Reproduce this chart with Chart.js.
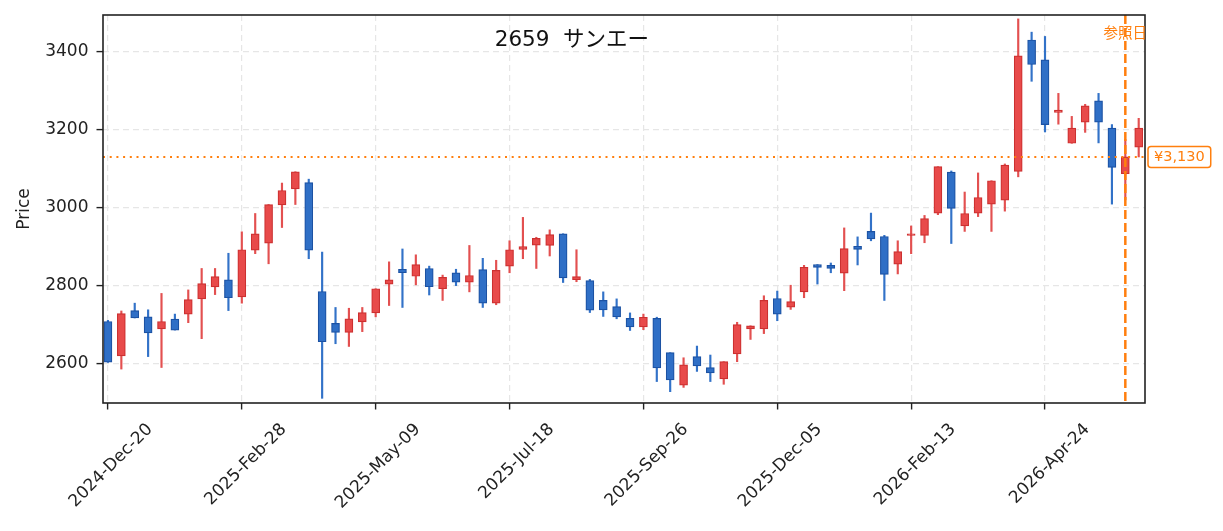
<!DOCTYPE html>
<html>
<head>
<meta charset="utf-8">
<script src="https://cdn.jsdelivr.net/npm/chart.js@4.4.1/dist/chart.umd.min.js"></script>
<style>
html,body{margin:0;padding:0;background:#ffffff;}
#wrap{width:1223px;height:531px;position:relative;}
</style>
</head>
<body>
<div id="wrap"><canvas id="c" width="1223" height="531"></canvas></div>
<script>
// ---- data ----
const chartTitle = '2659  サンエー';
const yTitle = 'Price';
const tickPositions = [0, 10, 20, 30, 40, 50, 60, 70];
const tickLabels = ['2024-Dec-20', '2025-Feb-28', '2025-May-09', '2025-Jul-18', '2025-Sep-26', '2025-Dec-05', '2026-Feb-13', '2026-Apr-24'];
const yTicks = [2600, 2800, 3000, 3200, 3400];
const opens  = [2708,2620,2736,2720,2689,2714,2727,2766,2797,2815,2771,2891,2909,3007,3048,3064,2785,2703,2680,2707,2730,2804,2842,2824,2844,2792,2833,2809,2841,2755,2850,2893,2904,2903,2933,2815,2813,2762,2746,2716,2694,2716,2628,2545,2618,2590,2561,2625,2689,2689,2767,2745,2784,2854,2852,2832,2901,2939,2926,2855,2929,2929,2986,3091,2953,2986,3009,3019,3093,3430,3379,3244,3165,3219,3274,3204,3087,3155];
const highs  = [2711,2735,2755,2738,2780,2727,2789,2844,2844,2883,2938,2985,3008,3063,3092,3073,2886,2744,2742,2744,2792,2861,2894,2879,2850,2827,2842,2903,2870,2865,2915,2975,2924,2943,2933,2892,2816,2784,2766,2730,2727,2719,2628,2615,2645,2622,2605,2706,2697,2774,2786,2801,2852,2854,2858,2948,2925,2986,2929,2915,2953,2980,3105,3094,3040,3089,3069,3112,3484,3450,3439,3293,3234,3265,3293,3213,3175,3229];
const lows   = [2603,2586,2717,2618,2590,2686,2705,2664,2777,2736,2755,2882,2856,2949,3008,2869,2511,2651,2644,2682,2720,2749,2744,2802,2776,2762,2800,2784,2744,2751,2833,2869,2844,2876,2808,2810,2731,2721,2715,2685,2687,2554,2528,2539,2580,2554,2547,2605,2662,2677,2710,2739,2769,2804,2833,2787,2853,2915,2762,2830,2882,2910,2982,2908,2939,2977,2939,2991,3079,3324,3194,3214,3165,3193,3166,3009,3020,3130];
const closes = [2604,2728,2717,2679,2708,2686,2764,2805,2823,2769,2892,2933,3008,3044,3092,2891,2656,2680,2715,2731,2792,2815,2833,2854,2797,2821,2809,2826,2755,2839,2892,2900,2921,2931,2820,2823,2737,2738,2720,2694,2719,2589,2558,2597,2594,2576,2605,2700,2697,2762,2727,2759,2847,2847,2844,2895,2893,2920,2829,2887,2933,2972,3105,2998,2985,3026,3069,3109,3389,3367,3213,3250,3204,3261,3219,3103,3130,3204];
const lastPrice = 3130;
const lastPriceLabel = '¥3,130';
const refIndex = 76;
const refLabel = '参照日';

// ---- styles ----
const FONT = '"DejaVu Sans", "Noto Sans CJK JP", sans-serif';
const UP_FILL = '#e84a4a', UP_EDGE = '#cc3030', UP_WICK = '#e35050';
const DN_FILL = '#2f6fc6', DN_EDGE = '#1c52a3', DN_WICK = '#3272c8';
const ORANGE = '#ff7f0e';
const X_MIN = -0.37, X_MAX = 77.47, Y_MIN = 2499, Y_MAX = 3494;

const isUp = opens.map((o, i) => closes[i] >= o);
const wickData = opens.map((o, i) => ({x: i, y: [lows[i], highs[i]]}));
const bodyData = opens.map((o, i) => ({x: i, y: [Math.min(o, closes[i]), Math.max(o, closes[i])]}));

const overlay = {
  id: 'overlay',
  afterDatasetsDraw(chart) {
    const {ctx, chartArea: a, scales: {x, y}} = chart;
    ctx.save();
    // price line
    const py = y.getPixelForValue(lastPrice);
    ctx.strokeStyle = ORANGE; ctx.lineWidth = 2; ctx.setLineDash([2, 4.7]);
    ctx.beginPath(); ctx.moveTo(a.left, py); ctx.lineTo(a.right, py); ctx.stroke();
    // reference date line
    const rx = x.getPixelForValue(refIndex);
    ctx.lineWidth = 2.5; ctx.setLineDash([9, 4]);
    ctx.beginPath(); ctx.moveTo(rx, a.top); ctx.lineTo(rx, a.bottom); ctx.stroke();
    ctx.setLineDash([]);
    // frame
    ctx.strokeStyle = '#222'; ctx.lineWidth = 1.6;
    ctx.strokeRect(a.left, a.top, a.right - a.left, a.bottom - a.top);
    // title
    ctx.fillStyle = '#111'; ctx.font = '21.5px ' + FONT;
    ctx.textAlign = 'center'; ctx.textBaseline = 'middle';
    ctx.fillText(chartTitle, a.left + 0.45 * (a.right - a.left), 40);
    // ref label
    ctx.fillStyle = ORANGE; ctx.font = '14.5px ' + FONT;
    ctx.fillText(refLabel, rx, 34);
    // price label box
    ctx.font = '14.5px ' + FONT;
    const tw = ctx.measureText(lastPriceLabel).width;
    const bx = a.right + 3, bw = tw + 12, bh = 21;
    ctx.fillStyle = '#fff'; ctx.strokeStyle = ORANGE; ctx.lineWidth = 1.5;
    ctx.beginPath();
    if (ctx.roundRect) ctx.roundRect(bx, py - bh / 2, bw, bh, 3); else ctx.rect(bx, py - bh / 2, bw, bh);
    ctx.fill(); ctx.stroke();
    ctx.fillStyle = ORANGE; ctx.textAlign = 'left';
    ctx.fillText(lastPriceLabel, bx + 6, py + 0.5);
    ctx.restore();
  }
};

new Chart(document.getElementById('c'), {
  type: 'bar',
  data: {
    datasets: [
      {
        data: bodyData,
        backgroundColor: isUp.map(u => u ? UP_FILL : DN_FILL),
        borderColor: isUp.map(u => u ? UP_EDGE : DN_EDGE),
        borderWidth: 1.2, borderSkipped: false, barThickness: 8, grouped: false, order: 1
      },
      {
        data: wickData,
        backgroundColor: isUp.map(u => u ? UP_WICK : DN_WICK),
        borderWidth: 0, barThickness: 1.5, grouped: false, order: 2
      }
    ]
  },
  options: {
    responsive: false,
    animation: false,
    layout: {padding: {left: 0, right: 78, top: 15, bottom: 0}},
    plugins: {legend: {display: false}, tooltip: {enabled: false}, title: {display: false}},
    scales: {
      x: {
        type: 'linear', min: X_MIN, max: X_MAX, offset: false,
        afterBuildTicks: s => { s.ticks = tickPositions.map(v => ({value: v})); },
        afterFit: s => { s.height = 128; },
        ticks: {
          autoSkip: false, maxRotation: 45, minRotation: 45, labelOffset: 42, padding: 10,
          color: '#222', font: {family: FONT, size: 17},
          callback: v => tickLabels[tickPositions.indexOf(v)]
        },
        grid: {offset: false, color: '#e6e6e6', lineWidth: 1.2, tickColor: '#222', tickLength: 6.5, tickWidth: 1.4},
        border: {display: false, dash: [6, 4]}
      },
      y: {
        min: Y_MIN, max: Y_MAX,
        afterBuildTicks: s => { s.ticks = yTicks.map(v => ({value: v})); },
        afterFit: s => { s.width = 103; },
        ticks: {padding: 8, color: '#222', font: {family: FONT, size: 17, lineHeight: 0.4}, callback: v => String(v)},
        grid: {offset: false, color: '#e6e6e6', lineWidth: 1.2, tickColor: '#222', tickLength: 6.5, tickWidth: 1.4},
        border: {display: false, dash: [6, 4]},
        title: {display: true, text: yTitle, color: '#222', font: {family: FONT, size: 17}, padding: {top: 14, bottom: 0}}
      }
    }
  },
  plugins: [overlay]
});
</script>
</body>
</html>
